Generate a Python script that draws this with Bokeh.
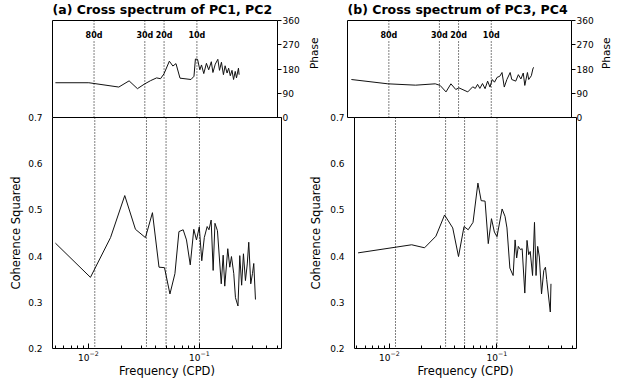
import math
from bokeh.plotting import figure
from bokeh.models import (Range1d, FixedTicker, Span, LabelSet,
                          ColumnDataSource, LogTickFormatter)
from bokeh.core.properties import value
from bokeh.layouts import row, column
from bokeh.embed import file_html
from bokeh.resources import INLINE

# ---------------- data ----------------
titles = ["(a) Cross spectrum of PC1, PC2", "(b) Cross spectrum of PC3, PC4"]

period_labels = ["80d", "30d", "20d", "10d"]
period_freq = [0.0114, 0.0333, 0.05, 0.1]

# panel (a): coherence squared
freq_coh_a = [0.00504, 0.01042, 0.0158, 0.02123, 0.0265, 0.0326, 0.0377, 0.0432, 0.0484,
              0.0542, 0.0601, 0.0653, 0.0713, 0.0764, 0.0826, 0.0889, 0.0940, 0.0996,
              0.1049, 0.1105, 0.1173, 0.1218, 0.1274, 0.1328, 0.1379, 0.1452, 0.1571,
              0.1635, 0.1690, 0.1799, 0.1875, 0.1942, 0.2037, 0.2110, 0.2223, 0.2307,
              0.2399, 0.2490, 0.2595, 0.2696, 0.2780, 0.2898, 0.3003, 0.3084, 0.3195]
coh_a = [0.428, 0.354, 0.440, 0.531, 0.458, 0.440, 0.494, 0.376, 0.375,
         0.318, 0.362, 0.453, 0.457, 0.435, 0.381, 0.458, 0.435, 0.463,
         0.390, 0.440, 0.464, 0.457, 0.478, 0.369, 0.471, 0.455, 0.340,
         0.402, 0.335, 0.416, 0.376, 0.399, 0.362, 0.310, 0.292, 0.401,
         0.337, 0.405, 0.347, 0.383, 0.430, 0.340, 0.362, 0.384, 0.306]

# panel (a): phase (degrees)
freq_ph_a = [0.00504, 0.01021, 0.01922, 0.0239, 0.0285, 0.0330, 0.0377, 0.0427, 0.0464,
             0.0499, 0.0559, 0.0602, 0.0643, 0.0700, 0.0883, 0.0940, 0.0969, 0.1014,
             0.1064, 0.1102, 0.1156, 0.1223, 0.1283, 0.1356, 0.1402, 0.1474, 0.1556,
             0.1611, 0.1679, 0.1751, 0.1814, 0.1891, 0.1954, 0.2024, 0.2098, 0.2168,
             0.2246, 0.2307, 0.2405, 0.2438]
ph_a = [129, 129, 113, 136, 107, 124, 137, 147, 144,
        162, 209, 191, 200, 146, 141, 153, 217, 216,
        177, 195, 163, 201, 177, 207, 167, 198, 216,
        175, 205, 159, 192, 165, 183, 155, 175, 141,
        171, 147, 183, 159]

# panel (b): coherence squared
freq_coh_b = [0.00512, 0.01612, 0.02123, 0.02707, 0.0326, 0.0388, 0.0439, 0.0494, 0.0540,
              0.0599, 0.0665, 0.0713, 0.0775, 0.0830, 0.0889, 0.0946, 0.1000, 0.1116,
              0.1188, 0.1238, 0.1318, 0.1413, 0.1474, 0.1524, 0.1578, 0.1655, 0.1714,
              0.1814, 0.1902, 0.1971, 0.2037, 0.2141, 0.2232, 0.2307, 0.2388, 0.2476,
              0.2595, 0.2723, 0.2821, 0.2898, 0.3130, 0.3176]
coh_b = [0.407, 0.4245, 0.418, 0.443, 0.489, 0.461, 0.399, 0.464, 0.457,
         0.473, 0.558, 0.520, 0.519, 0.427, 0.481, 0.452, 0.442, 0.502,
         0.486, 0.461, 0.374, 0.358, 0.435, 0.396, 0.421, 0.414, 0.416,
         0.320, 0.434, 0.403, 0.410, 0.358, 0.473, 0.358, 0.421, 0.398,
         0.318, 0.369, 0.376, 0.349, 0.279, 0.340]

# panel (b): phase (degrees)
freq_ph_b = [0.00515, 0.01116, 0.02012, 0.0305, 0.0338, 0.0383, 0.0425, 0.0471, 0.0504,
             0.0608, 0.0675, 0.0713, 0.0748, 0.0785, 0.0830, 0.0877, 0.0926, 0.0973,
             0.1021, 0.1071, 0.1132, 0.1198, 0.1256, 0.1318, 0.1393, 0.1493, 0.1545,
             0.1680, 0.1777, 0.1875, 0.1971, 0.2037, 0.2154, 0.2213, 0.2339, 0.2425,
             0.2476]
ph_b = [141, 125, 120, 125, 119, 95, 125, 104, 110,
        95, 114, 108, 123, 108, 126, 107, 135, 113,
        141, 131, 149, 153, 167, 113, 141, 167, 141,
        135, 159, 143, 165, 119, 167, 141, 155, 183,
        186]

coh_ticks = [0.2, 0.3, 0.4, 0.5, 0.6, 0.7]
phase_ticks = [0, 90, 180, 270, 360]
freq_major_ticks = [0.01, 0.1]

# ---------------- layout constants ----------------
X_LO = 10 ** -2.324
X_HI = 10 ** -0.261
COH_LO, COH_HI = 0.2, 0.7
PH_LO, PH_HI = 0.0, 360.0
PERIOD_LABEL_Y = 305

FONT = "DejaVu Sans"
TICK_SIZE = "9px"
LABEL_SIZE = "11.5px"

minor = [k * 10 ** e for e in (-3, -2, -1) for k in range(2, 10)]


def try_set(obj, name, val):
    try:
        if name in obj.properties():
            setattr(obj, name, val)
    except Exception:
        pass


def base_style(p):
    p.xgrid.visible = False
    p.ygrid.visible = False
    p.outline_line_color = "black"
    p.outline_line_width = 1
    p.outline_line_alpha = 1
    p.background_fill_color = "white"
    p.border_fill_color = None
    for f in period_freq:
        p.add_layout(Span(location=f, dimension="height", line_color="black",
                          line_width=1, line_dash="1 2"))


def style_labels(ax, label, label_size, standoff):
    ax.axis_line_color = None
    ax.major_tick_line_color = "black"
    ax.minor_tick_line_color = "black"
    ax.major_label_text_font = FONT
    ax.major_label_text_font_size = TICK_SIZE
    ax.major_label_text_color = "black"
    ax.axis_label = label
    ax.axis_label_standoff = standoff
    ax.axis_label_text_font = FONT
    ax.axis_label_text_font_size = label_size
    ax.axis_label_text_font_style = "normal"
    ax.axis_label_text_color = "black"


def make_top(title, fp, ph, width, b_left, b_right, ph_standoff):
    p = figure(width=width, height=125, x_axis_type="log", x_axis_location=None,
               y_axis_location="right",
               x_range=Range1d(X_LO, X_HI), y_range=Range1d(PH_LO, PH_HI),
               output_backend="svg", toolbar_location=None,
               min_border_left=b_left, min_border_right=b_right,
               min_border_top=18, min_border_bottom=8)
    base_style(p)
    p.title.text = title
    p.title.align = "left"
    p.title.offset = 0
    p.title.standoff = 3
    p.title.vertical_align = "top"
    p.title.text_font = FONT
    p.title.text_font_size = "12.5px"
    p.title.text_font_style = "bold"
    p.title.text_color = "black"

    ra = p.yaxis[0]
    ra.ticker = FixedTicker(ticks=phase_ticks)
    ra.major_tick_in = 0
    ra.major_tick_out = 4
    ra.minor_tick_in = 0
    ra.minor_tick_out = 0
    ra.major_label_standoff = 1
    style_labels(ra, "Phase", "10.5px", ph_standoff)
    try_set(ra, "axis_label_orientation", math.pi / 2)

    p.line(fp, ph, line_color="#111111", line_width=1)

    src = ColumnDataSource(dict(f=period_freq, t=period_labels))
    p.add_layout(LabelSet(x="f", y=PERIOD_LABEL_Y, text="t", source=src,
                          text_align="center", text_baseline="middle",
                          text_font=value(FONT), text_font_size=value("8px"),
                          text_font_style=value("bold"), text_color=value("black"),
                          background_fill_color="white"))
    return p


def make_bottom(fc, coh, width, b_left, b_right, cs_standoff):
    p = figure(width=width, height=271, x_axis_type="log",
               x_range=Range1d(X_LO, X_HI), y_range=Range1d(COH_LO, COH_HI),
               output_backend="svg", toolbar_location=None,
               min_border_left=b_left, min_border_right=b_right,
               min_border_top=8, min_border_bottom=32)
    base_style(p)

    xa = p.xaxis[0]
    xa.ticker = FixedTicker(ticks=freq_major_ticks, minor_ticks=minor)
    xa.formatter = LogTickFormatter()
    xa.major_tick_in = 5
    xa.major_tick_out = 0
    xa.minor_tick_in = 3
    xa.minor_tick_out = 0
    xa.major_label_standoff = 2
    style_labels(xa, "Frequency (CPD)", LABEL_SIZE, 0)

    ya = p.yaxis[0]
    ya.ticker = FixedTicker(ticks=coh_ticks)
    ya.major_tick_in = 0
    ya.major_tick_out = 0
    ya.minor_tick_in = 0
    ya.minor_tick_out = 0
    ya.major_label_standoff = 10
    style_labels(ya, "Coherence Squared", LABEL_SIZE, cs_standoff)

    p.line(fc, coh, line_color="#111111", line_width=1)
    return p


top_a = make_top(titles[0], freq_ph_a, ph_a, 328, 52, 47, 11)
top_b = make_top(titles[1], freq_ph_b, ph_b, 292, 19, 44, 9)
bot_a = make_bottom(freq_coh_a, coh_a, 306, 52, 25, 2)
bot_b = make_bottom(freq_coh_b, coh_b, 280, 41, 10, 4)

layout = column(row(top_a, top_b),
                row(bot_a, bot_b, styles={"margin-top": "-16px"}))
open("out.html", "w").write(file_html(layout, INLINE))
